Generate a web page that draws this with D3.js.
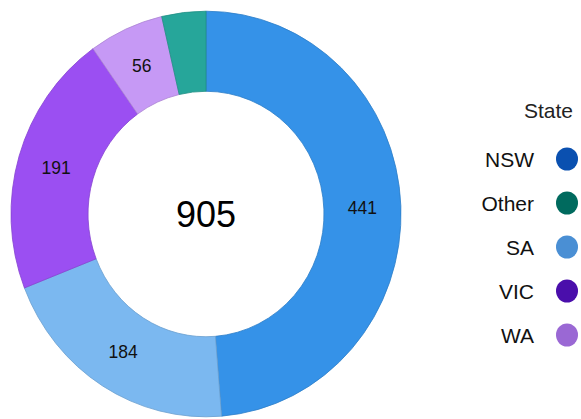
<!DOCTYPE html>
<html>
<head>
<meta charset="utf-8">
<script src="https://cdn.jsdelivr.net/npm/d3@7/dist/d3.min.js"></script>
<style>
html,body{margin:0;padding:0;background:#fff;}
svg{display:block;font-family:"Liberation Sans",Arial,sans-serif;}
</style>
</head>
<body>
<svg id="chart" width="581" height="419"></svg>
<script>
const categories = ["NSW", "SA", "VIC", "WA", "Other"];
const values = [441, 184, 191, 56, 33];
const sliceColors = ["#3592e8", "#7bb8f0", "#9b4ff2", "#c699f5", "#26a69a"];
const legendNames = ["NSW", "Other", "SA", "VIC", "WA"];
const legendColors = ["#0a50b0", "#006a5e", "#4a8fd4", "#4a0eab", "#9a68d4"];
const legendTitle = "State";
const total = d3.sum(values);

const svg = d3.select("#chart");
const cx = 206, cy = 214, sy = 1.04;
const rOuter = 195, rInner = 118;

const pie = d3.pie().sort(null).value(d => d.value);
const arc = d3.arc().innerRadius(rInner).outerRadius(rOuter);
const data = categories.map((c, i) => ({name: c, value: values[i], color: sliceColors[i]}));
const arcs = pie(data);

const g = svg.append("g").attr("transform", `translate(${cx},${cy}) scale(1,${sy})`);
g.selectAll("path.slice").data(arcs).enter().append("path")
  .attr("class", "slice")
  .attr("d", arc)
  .attr("fill", d => d.data.color)
  .attr("stroke", d => d3.color(d.data.color).darker(0.4))
  .attr("stroke-width", 0.8);

g.selectAll("text.lbl").data(arcs.filter(d => d.data.value >= 50)).enter().append("text")
  .attr("class", "lbl")
  .attr("transform", d => `translate(${arc.centroid(d)})`)
  .attr("text-anchor", "middle")
  .attr("dominant-baseline", "central")
  .attr("font-size", 17.5)
  .attr("fill", "#111")
  .text(d => d.data.value);

g.append("text")
  .attr("text-anchor", "middle")
  .attr("dominant-baseline", "central")
  .attr("font-size", 36)
  .attr("fill", "#000")
  .text(total);

// legend
const lg = svg.append("g");
lg.append("text")
  .attr("x", 573).attr("y", 110)
  .attr("text-anchor", "end")
  .attr("dominant-baseline", "central")
  .attr("font-size", 21)
  .attr("fill", "#222")
  .text(legendTitle);

const ly = d3.scalePoint().domain(legendNames).range([159, 335]);
const items = lg.selectAll("g.item").data(legendNames).enter().append("g")
  .attr("class", "item")
  .attr("transform", d => `translate(0,${ly(d)})`);
items.append("text")
  .attr("x", 534).attr("y", 0)
  .attr("text-anchor", "end")
  .attr("dominant-baseline", "central")
  .attr("font-size", 21)
  .attr("fill", "#111")
  .text(d => d);
items.append("ellipse")
  .attr("cx", 567).attr("cy", 0)
  .attr("rx", 11).attr("ry", 11.5)
  .attr("fill", (d, i) => legendColors[i]);
</script>
</body>
</html>
